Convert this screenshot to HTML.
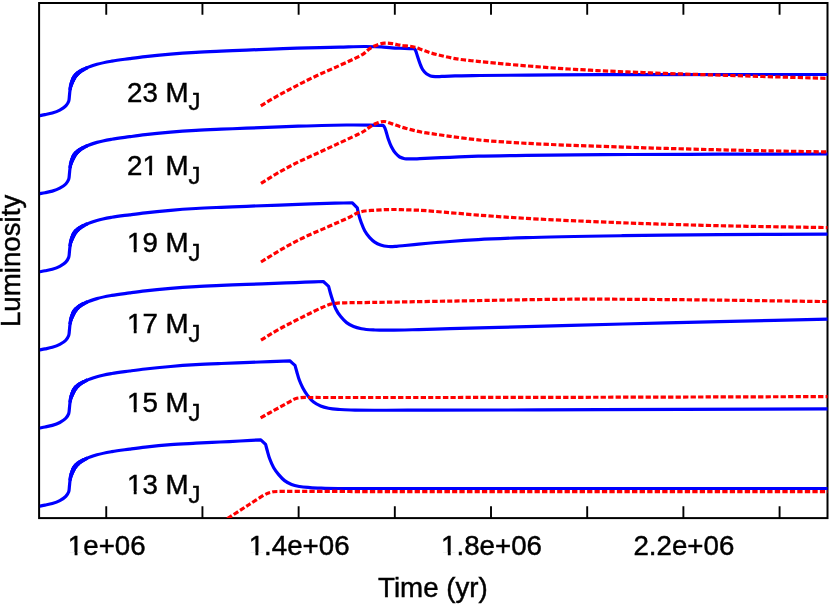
<!DOCTYPE html>
<html><head><meta charset="utf-8"><title>plot</title>
<style>
html,body{margin:0;padding:0;background:#fff;}
body{width:830px;height:605px;overflow:hidden;}
svg{display:block;will-change:transform;}
.f{font-family:"Liberation Sans",sans-serif;font-size:27.7px;fill:#000;stroke:#000;stroke-width:0.45px;}
.s{font-size:23.82px;}
.b{fill:none;stroke:#0000ff;stroke-width:3.2;stroke-linejoin:round;stroke-linecap:butt;}
.r{fill:none;stroke:#ff0000;stroke-width:3.2;stroke-dasharray:5.3 2.2;stroke-linejoin:round;}
.t{fill:none;stroke:#000;stroke-width:1.9;}
</style></head><body>
<svg width="830" height="605" viewBox="0 0 830 605">
<rect x="0" y="0" width="830" height="605" fill="#fff"/>
<defs><clipPath id="c"><rect x="39.9" y="3" width="787.6" height="515.1"/></clipPath></defs>
<path d="M106.25,518.1 v-11.8 M106.25,3 v11.8" class="t"/>
<path d="M202.44,518.1 v-11.8 M202.44,3 v11.8" class="t"/>
<path d="M298.63,518.1 v-11.8 M298.63,3 v11.8" class="t"/>
<path d="M394.82,518.1 v-11.8 M394.82,3 v11.8" class="t"/>
<path d="M491.01,518.1 v-11.8 M491.01,3 v11.8" class="t"/>
<path d="M587.20,518.1 v-11.8 M587.20,3 v11.8" class="t"/>
<path d="M683.39,518.1 v-11.8 M683.39,3 v11.8" class="t"/>
<path d="M779.58,518.1 v-11.8 M779.58,3 v11.8" class="t"/>
<rect x="39.1" y="3" width="788.4" height="515.1" fill="none" stroke="#000" stroke-width="2"/>
<g clip-path="url(#c)">
<path d="M39.00,115.70 C41.00,115.33 43.01,115.00 45.00,114.60 C47.44,114.11 49.91,113.71 52.30,113.00 C54.87,112.23 57.44,111.37 59.80,110.10 C61.95,108.94 64.18,107.72 65.80,105.90 C67.02,104.53 68.09,102.94 68.70,101.20 C69.28,99.55 69.20,97.74 69.40,96.00 C69.59,94.34 69.69,92.66 69.90,91.00 C70.09,89.49 70.24,87.98 70.60,86.50 C70.93,85.14 71.40,83.81 71.90,82.50 C72.65,80.54 73.40,78.53 74.60,76.80 C75.82,75.04 77.43,73.54 79.10,72.20 C81.31,70.43 83.93,69.21 86.50,68.00 C89.86,66.42 93.44,65.35 97.00,64.30 C101.84,62.88 106.83,62.00 111.80,61.10 C117.73,60.03 123.73,59.40 129.70,58.60 C134.90,57.91 140.09,57.21 145.30,56.60 C153.11,55.69 162.16,54.82 170.60,54.10 C179.02,53.38 187.46,52.80 195.90,52.30 C204.33,51.80 212.77,51.47 221.20,51.10 C229.63,50.73 238.07,50.43 246.50,50.10 C254.93,49.77 263.37,49.42 271.80,49.10 C280.23,48.78 288.67,48.46 297.10,48.20 C304.73,47.97 312.37,47.80 320.00,47.60 C326.67,47.43 333.33,47.26 340.00,47.10 C348.33,46.90 356.85,46.46 365.00,46.50 C370.43,46.53 375.94,46.55 381.30,46.90 C384.87,47.14 388.43,47.67 392.00,47.90 C394.66,48.07 397.33,48.15 400.00,48.25 C404.00,48.41 409.67,48.55 414.50,48.70 C414.90,49.40 415.35,50.08 415.70,50.80 C416.23,51.89 416.76,54.07 417.30,55.70 C418.11,58.15 418.85,60.67 419.80,63.10 C420.67,65.34 421.35,67.71 422.70,69.70 C423.73,71.22 424.92,72.70 426.40,73.80 C427.63,74.72 429.04,75.42 430.50,75.90 C432.35,76.51 434.36,76.49 436.30,76.60 C439.06,76.75 441.83,76.40 444.60,76.30 C448.07,76.17 451.53,76.01 455.00,75.90 C460.20,75.73 471.67,75.62 480.00,75.50 C492.50,75.33 530.67,75.05 556.00,74.90 C585.17,74.73 614.33,74.67 643.50,74.60 C687.25,74.49 766.50,74.53 828.00,74.50" class="b"/>
<path d="M39.00,193.80 C41.00,193.43 43.01,193.10 45.00,192.70 C47.44,192.21 49.91,191.81 52.30,191.10 C54.87,190.33 57.44,189.47 59.80,188.20 C61.95,187.04 64.18,185.82 65.80,184.00 C67.02,182.63 68.09,181.04 68.70,179.30 C69.28,177.65 69.20,175.84 69.40,174.10 C69.59,172.44 69.69,170.76 69.90,169.10 C70.09,167.59 70.24,166.08 70.60,164.60 C70.93,163.24 71.40,161.91 71.90,160.60 C72.65,158.64 73.40,156.63 74.60,154.90 C75.82,153.14 77.43,151.64 79.10,150.30 C81.31,148.53 83.93,147.31 86.50,146.10 C89.86,144.52 93.44,143.45 97.00,142.40 C101.84,140.98 106.83,140.10 111.80,139.20 C117.73,138.13 123.73,137.50 129.70,136.70 C134.90,136.01 140.09,135.31 145.30,134.70 C153.11,133.79 162.16,132.92 170.60,132.20 C179.02,131.48 187.46,130.90 195.90,130.40 C204.33,129.90 212.77,129.57 221.20,129.20 C229.63,128.83 238.07,128.53 246.50,128.20 C259.15,127.70 280.96,126.74 298.20,126.20 C314.26,125.69 334.60,125.06 346.40,125.00 C354.27,124.96 363.40,124.99 370.00,125.10 C374.40,125.17 378.80,125.30 383.20,125.40 C383.63,126.00 384.13,126.56 384.50,127.20 C385.04,128.13 385.33,129.19 385.70,130.20 C386.26,131.72 387.18,135.71 388.10,138.40 C389.07,141.22 390.03,144.06 391.40,146.70 C392.60,149.01 393.87,151.35 395.60,153.30 C396.82,154.68 398.11,156.08 399.70,157.00 C401.22,157.88 402.97,158.36 404.70,158.70 C406.86,159.13 409.10,158.89 411.30,158.90 C414.60,158.92 420.43,158.49 425.00,158.30 C431.85,158.01 441.67,157.63 450.00,157.30 C459.40,156.93 468.80,156.49 478.20,156.20 C492.30,155.77 510.33,155.62 526.40,155.40 C542.47,155.18 558.53,155.04 574.60,154.90 C593.07,154.74 611.53,154.61 630.00,154.50 C657.70,154.34 689.33,154.28 719.00,154.20 C755.33,154.10 791.67,154.07 828.00,154.00" class="b"/>
<path d="M39.00,271.90 C41.00,271.53 43.01,271.20 45.00,270.80 C47.44,270.31 49.91,269.91 52.30,269.20 C54.87,268.43 57.44,267.57 59.80,266.30 C61.95,265.14 64.18,263.92 65.80,262.10 C67.02,260.73 68.09,259.14 68.70,257.40 C69.28,255.75 69.20,253.94 69.40,252.20 C69.59,250.54 69.69,248.86 69.90,247.20 C70.09,245.69 70.24,244.18 70.60,242.70 C70.93,241.34 71.40,240.01 71.90,238.70 C72.65,236.74 73.40,234.73 74.60,233.00 C75.82,231.24 77.43,229.74 79.10,228.40 C81.31,226.63 83.93,225.41 86.50,224.20 C89.86,222.62 93.44,221.55 97.00,220.50 C101.84,219.08 106.83,218.20 111.80,217.30 C117.73,216.23 123.73,215.60 129.70,214.80 C134.90,214.11 140.09,213.41 145.30,212.80 C153.11,211.89 162.16,211.02 170.60,210.30 C179.02,209.58 187.46,209.00 195.90,208.50 C204.33,208.00 212.77,207.67 221.20,207.30 C229.63,206.93 238.07,206.63 246.50,206.30 C259.15,205.81 280.97,204.99 298.20,204.40 C310.47,203.98 326.33,203.43 335.00,203.20 C340.78,203.05 346.57,202.93 352.35,202.80 C354.00,204.50 355.65,206.20 357.30,207.90 C357.80,210.20 358.20,212.52 358.80,214.80 C359.50,217.47 360.35,220.11 361.30,222.70 C362.30,225.42 363.27,228.18 364.70,230.70 C366.10,233.17 367.77,235.51 369.70,237.60 C371.22,239.25 372.84,240.85 374.70,242.10 C376.52,243.33 378.53,244.28 380.60,245.00 C383.13,245.88 385.83,246.28 388.50,246.50 C391.16,246.72 393.84,246.46 396.50,246.30 C399.34,246.13 402.17,245.77 405.00,245.50 C409.25,245.10 414.13,244.62 418.70,244.20 C425.55,243.57 439.56,242.30 450.00,241.50 C459.39,240.78 468.79,240.14 478.20,239.60 C492.31,238.78 510.33,238.15 526.40,237.60 C550.51,236.77 590.66,236.18 622.80,235.70 C654.93,235.22 687.07,234.95 719.20,234.70 C755.47,234.42 791.73,234.37 828.00,234.20" class="b"/>
<path d="M39.00,350.00 C41.00,349.63 43.01,349.30 45.00,348.90 C47.44,348.41 49.91,348.01 52.30,347.30 C54.87,346.53 57.44,345.67 59.80,344.40 C61.95,343.24 64.18,342.02 65.80,340.20 C67.02,338.83 68.09,337.24 68.70,335.50 C69.28,333.85 69.20,332.04 69.40,330.30 C69.59,328.64 69.69,326.96 69.90,325.30 C70.09,323.79 70.24,322.28 70.60,320.80 C70.93,319.44 71.40,318.11 71.90,316.80 C72.65,314.84 73.40,312.83 74.60,311.10 C75.82,309.34 77.43,307.84 79.10,306.50 C81.31,304.73 83.93,303.51 86.50,302.30 C89.86,300.72 93.44,299.65 97.00,298.60 C101.84,297.18 106.83,296.30 111.80,295.40 C117.73,294.33 123.73,293.70 129.70,292.90 C134.90,292.21 140.09,291.51 145.30,290.90 C153.11,289.99 162.16,289.12 170.60,288.40 C179.02,287.68 187.46,287.10 195.90,286.60 C204.33,286.10 212.77,285.77 221.20,285.40 C229.63,285.03 238.07,284.73 246.50,284.40 C259.15,283.91 276.65,283.25 286.10,282.90 C292.40,282.66 298.70,282.44 305.00,282.20 C311.10,281.97 317.20,281.73 323.30,281.50 C325.07,283.13 326.83,284.77 328.60,286.40 C329.17,288.53 329.69,290.68 330.30,292.80 C331.07,295.49 331.90,298.15 332.80,300.80 C333.70,303.46 334.47,306.18 335.70,308.70 C337.06,311.50 338.75,314.17 340.70,316.60 C342.46,318.79 344.36,320.91 346.60,322.60 C348.73,324.21 351.13,325.48 353.60,326.50 C356.13,327.54 358.82,328.14 361.50,328.70 C365.51,329.54 370.49,329.74 375.00,330.00 C379.99,330.28 385.00,330.19 390.00,330.20 C397.50,330.21 409.13,329.84 418.70,329.60 C429.13,329.34 439.57,329.00 450.00,328.70 C465.65,328.26 500.93,327.29 526.40,326.60 C558.53,325.72 590.67,324.82 622.80,324.00 C654.93,323.18 687.07,322.45 719.20,321.70 C755.47,320.85 791.73,320.03 828.00,319.20" class="b"/>
<path d="M39.00,428.10 C41.00,427.73 43.01,427.40 45.00,427.00 C47.44,426.51 49.91,426.11 52.30,425.40 C54.87,424.63 57.44,423.77 59.80,422.50 C61.95,421.34 64.18,420.12 65.80,418.30 C67.02,416.93 68.09,415.34 68.70,413.60 C69.28,411.95 69.20,410.14 69.40,408.40 C69.59,406.74 69.69,405.06 69.90,403.40 C70.09,401.89 70.24,400.38 70.60,398.90 C70.93,397.54 71.40,396.21 71.90,394.90 C72.65,392.94 73.40,390.93 74.60,389.20 C75.82,387.44 77.43,385.94 79.10,384.60 C81.31,382.83 83.93,381.61 86.50,380.40 C89.86,378.82 93.44,377.75 97.00,376.70 C101.84,375.28 106.83,374.40 111.80,373.50 C117.73,372.43 123.73,371.80 129.70,371.00 C134.90,370.31 140.09,369.61 145.30,369.00 C153.11,368.09 162.16,367.22 170.60,366.50 C179.02,365.78 187.46,365.20 195.90,364.70 C204.33,364.20 212.77,363.86 221.20,363.50 C230.80,363.09 240.40,362.79 250.00,362.40 C256.67,362.13 263.33,361.82 270.00,361.55 C276.60,361.28 283.20,361.05 289.80,360.80 C291.53,362.33 293.27,363.87 295.00,365.40 C295.60,367.53 296.18,369.67 296.80,371.80 C297.57,374.47 298.24,377.19 299.20,379.80 C300.20,382.50 301.35,385.16 302.70,387.70 C304.16,390.45 305.81,393.13 307.70,395.60 C309.48,397.92 311.29,400.30 313.60,402.10 C315.70,403.75 318.13,404.98 320.60,406.00 C323.13,407.04 325.82,407.64 328.50,408.20 C332.28,408.99 336.15,409.19 340.00,409.50 C344.99,409.90 350.00,409.93 355.00,410.10 C362.50,410.35 405.00,410.20 430.00,410.20 C467.50,410.20 543.33,409.88 600.00,409.70 C676.00,409.46 752.00,409.17 828.00,408.90" class="b"/>
<path d="M39.00,506.20 C41.00,505.83 43.01,505.50 45.00,505.10 C47.44,504.61 49.91,504.21 52.30,503.50 C54.87,502.73 57.44,501.87 59.80,500.60 C61.95,499.44 64.18,498.22 65.80,496.40 C67.02,495.03 68.09,493.44 68.70,491.70 C69.28,490.05 69.20,488.24 69.40,486.50 C69.59,484.84 69.69,483.16 69.90,481.50 C70.09,479.99 70.24,478.48 70.60,477.00 C70.93,475.64 71.40,474.31 71.90,473.00 C72.65,471.04 73.40,469.03 74.60,467.30 C75.82,465.54 77.43,464.04 79.10,462.70 C81.31,460.93 83.93,459.71 86.50,458.50 C89.86,456.92 93.44,455.85 97.00,454.80 C101.84,453.38 106.83,452.50 111.80,451.60 C117.73,450.53 123.73,449.90 129.70,449.10 C134.90,448.41 140.09,447.71 145.30,447.10 C153.11,446.19 162.15,445.25 170.60,444.60 C179.05,443.95 187.53,443.64 196.00,443.20 C204.00,442.78 212.00,442.40 220.00,442.00 C226.67,441.67 233.33,441.36 240.00,441.00 C246.93,440.63 253.87,440.20 260.80,439.80 C262.40,441.33 264.00,442.87 265.60,444.40 C266.17,446.53 266.70,448.67 267.30,450.80 C268.05,453.48 268.74,456.19 269.70,458.80 C270.82,461.85 272.05,464.90 273.70,467.70 C275.14,470.15 276.86,472.43 278.70,474.60 C280.51,476.74 282.36,478.91 284.60,480.60 C286.73,482.21 289.12,483.51 291.60,484.50 C294.12,485.51 296.83,486.00 299.50,486.50 C302.96,487.15 306.49,487.32 310.00,487.60 C314.99,488.00 320.00,488.10 325.00,488.30 C332.50,488.59 375.00,488.44 400.00,488.50 C437.50,488.59 685.33,488.50 828.00,488.50" class="b"/>
<g transform="translate(0,0.00)"><path d="M65.80,105.90 C66.77,104.33 68.09,102.94 68.70,101.20 C69.28,99.55 69.20,97.74 69.40,96.00 C69.59,94.34 69.69,92.66 69.90,91.00 C70.09,89.49 70.24,87.98 70.60,86.50 C70.93,85.14 71.40,83.81 71.90,82.50 C72.65,80.54 73.40,78.53 74.60,76.80 C75.82,75.04 77.43,73.54 79.10,72.20 C81.31,70.43 83.93,69.21 86.50,68.00 C89.86,66.42 93.44,65.35 97.00,64.30 C101.84,62.88 106.87,62.17 111.80,61.10" class="b" style="stroke-width:3.5;stroke-dasharray:0 16.83 30.08 9999"/><path d="M65.80,105.90 C66.77,104.33 68.09,102.94 68.70,101.20 C69.28,99.55 69.20,97.74 69.40,96.00 C69.59,94.34 69.69,92.66 69.90,91.00 C70.09,89.49 70.24,87.98 70.60,86.50 C70.93,85.14 71.40,83.81 71.90,82.50 C72.65,80.54 73.40,78.53 74.60,76.80 C75.82,75.04 77.43,73.54 79.10,72.20 C81.31,70.43 83.93,69.21 86.50,68.00 C89.86,66.42 93.44,65.35 97.00,64.30 C101.84,62.88 106.87,62.17 111.80,61.10" class="b" style="stroke-width:3.8;stroke-dasharray:0 20.38 22.52 9999"/><path d="M65.80,105.90 C66.77,104.33 68.09,102.94 68.70,101.20 C69.28,99.55 69.20,97.74 69.40,96.00 C69.59,94.34 69.69,92.66 69.90,91.00 C70.09,89.49 70.24,87.98 70.60,86.50 C70.93,85.14 71.40,83.81 71.90,82.50 C72.65,80.54 73.40,78.53 74.60,76.80 C75.82,75.04 77.43,73.54 79.10,72.20 C81.31,70.43 83.93,69.21 86.50,68.00 C89.86,66.42 93.44,65.35 97.00,64.30 C101.84,62.88 106.87,62.17 111.80,61.10" class="b" style="stroke-width:4.1;stroke-dasharray:0 22.88 15.99 9999"/><path d="M65.80,105.90 C66.77,104.33 68.09,102.94 68.70,101.20 C69.28,99.55 69.20,97.74 69.40,96.00 C69.59,94.34 69.69,92.66 69.90,91.00 C70.09,89.49 70.24,87.98 70.60,86.50 C70.93,85.14 71.40,83.81 71.90,82.50 C72.65,80.54 73.40,78.53 74.60,76.80 C75.82,75.04 77.43,73.54 79.10,72.20 C81.31,70.43 83.93,69.21 86.50,68.00 C89.86,66.42 93.44,65.35 97.00,64.30 C101.84,62.88 106.87,62.17 111.80,61.10" class="b" style="stroke-width:4.4;stroke-dasharray:0 25.59 10.78 9999"/><path d="M65.80,105.90 C66.77,104.33 68.09,102.94 68.70,101.20 C69.28,99.55 69.20,97.74 69.40,96.00 C69.59,94.34 69.69,92.66 69.90,91.00 C70.09,89.49 70.24,87.98 70.60,86.50 C70.93,85.14 71.40,83.81 71.90,82.50 C72.65,80.54 73.40,78.53 74.60,76.80 C75.82,75.04 77.43,73.54 79.10,72.20 C81.31,70.43 83.93,69.21 86.50,68.00 C89.86,66.42 93.44,65.35 97.00,64.30 C101.84,62.88 106.87,62.17 111.80,61.10" class="b" style="stroke-width:4.6;stroke-dasharray:0 27.59 6.28 9999"/></g>
<g transform="translate(0,78.10)"><path d="M65.80,105.90 C66.77,104.33 68.09,102.94 68.70,101.20 C69.28,99.55 69.20,97.74 69.40,96.00 C69.59,94.34 69.69,92.66 69.90,91.00 C70.09,89.49 70.24,87.98 70.60,86.50 C70.93,85.14 71.40,83.81 71.90,82.50 C72.65,80.54 73.40,78.53 74.60,76.80 C75.82,75.04 77.43,73.54 79.10,72.20 C81.31,70.43 83.93,69.21 86.50,68.00 C89.86,66.42 93.44,65.35 97.00,64.30 C101.84,62.88 106.87,62.17 111.80,61.10" class="b" style="stroke-width:3.5;stroke-dasharray:0 16.83 30.08 9999"/><path d="M65.80,105.90 C66.77,104.33 68.09,102.94 68.70,101.20 C69.28,99.55 69.20,97.74 69.40,96.00 C69.59,94.34 69.69,92.66 69.90,91.00 C70.09,89.49 70.24,87.98 70.60,86.50 C70.93,85.14 71.40,83.81 71.90,82.50 C72.65,80.54 73.40,78.53 74.60,76.80 C75.82,75.04 77.43,73.54 79.10,72.20 C81.31,70.43 83.93,69.21 86.50,68.00 C89.86,66.42 93.44,65.35 97.00,64.30 C101.84,62.88 106.87,62.17 111.80,61.10" class="b" style="stroke-width:3.8;stroke-dasharray:0 20.38 22.52 9999"/><path d="M65.80,105.90 C66.77,104.33 68.09,102.94 68.70,101.20 C69.28,99.55 69.20,97.74 69.40,96.00 C69.59,94.34 69.69,92.66 69.90,91.00 C70.09,89.49 70.24,87.98 70.60,86.50 C70.93,85.14 71.40,83.81 71.90,82.50 C72.65,80.54 73.40,78.53 74.60,76.80 C75.82,75.04 77.43,73.54 79.10,72.20 C81.31,70.43 83.93,69.21 86.50,68.00 C89.86,66.42 93.44,65.35 97.00,64.30 C101.84,62.88 106.87,62.17 111.80,61.10" class="b" style="stroke-width:4.1;stroke-dasharray:0 22.88 15.99 9999"/><path d="M65.80,105.90 C66.77,104.33 68.09,102.94 68.70,101.20 C69.28,99.55 69.20,97.74 69.40,96.00 C69.59,94.34 69.69,92.66 69.90,91.00 C70.09,89.49 70.24,87.98 70.60,86.50 C70.93,85.14 71.40,83.81 71.90,82.50 C72.65,80.54 73.40,78.53 74.60,76.80 C75.82,75.04 77.43,73.54 79.10,72.20 C81.31,70.43 83.93,69.21 86.50,68.00 C89.86,66.42 93.44,65.35 97.00,64.30 C101.84,62.88 106.87,62.17 111.80,61.10" class="b" style="stroke-width:4.4;stroke-dasharray:0 25.59 10.78 9999"/><path d="M65.80,105.90 C66.77,104.33 68.09,102.94 68.70,101.20 C69.28,99.55 69.20,97.74 69.40,96.00 C69.59,94.34 69.69,92.66 69.90,91.00 C70.09,89.49 70.24,87.98 70.60,86.50 C70.93,85.14 71.40,83.81 71.90,82.50 C72.65,80.54 73.40,78.53 74.60,76.80 C75.82,75.04 77.43,73.54 79.10,72.20 C81.31,70.43 83.93,69.21 86.50,68.00 C89.86,66.42 93.44,65.35 97.00,64.30 C101.84,62.88 106.87,62.17 111.80,61.10" class="b" style="stroke-width:4.6;stroke-dasharray:0 27.59 6.28 9999"/></g>
<g transform="translate(0,156.20)"><path d="M65.80,105.90 C66.77,104.33 68.09,102.94 68.70,101.20 C69.28,99.55 69.20,97.74 69.40,96.00 C69.59,94.34 69.69,92.66 69.90,91.00 C70.09,89.49 70.24,87.98 70.60,86.50 C70.93,85.14 71.40,83.81 71.90,82.50 C72.65,80.54 73.40,78.53 74.60,76.80 C75.82,75.04 77.43,73.54 79.10,72.20 C81.31,70.43 83.93,69.21 86.50,68.00 C89.86,66.42 93.44,65.35 97.00,64.30 C101.84,62.88 106.87,62.17 111.80,61.10" class="b" style="stroke-width:3.5;stroke-dasharray:0 16.83 30.08 9999"/><path d="M65.80,105.90 C66.77,104.33 68.09,102.94 68.70,101.20 C69.28,99.55 69.20,97.74 69.40,96.00 C69.59,94.34 69.69,92.66 69.90,91.00 C70.09,89.49 70.24,87.98 70.60,86.50 C70.93,85.14 71.40,83.81 71.90,82.50 C72.65,80.54 73.40,78.53 74.60,76.80 C75.82,75.04 77.43,73.54 79.10,72.20 C81.31,70.43 83.93,69.21 86.50,68.00 C89.86,66.42 93.44,65.35 97.00,64.30 C101.84,62.88 106.87,62.17 111.80,61.10" class="b" style="stroke-width:3.8;stroke-dasharray:0 20.38 22.52 9999"/><path d="M65.80,105.90 C66.77,104.33 68.09,102.94 68.70,101.20 C69.28,99.55 69.20,97.74 69.40,96.00 C69.59,94.34 69.69,92.66 69.90,91.00 C70.09,89.49 70.24,87.98 70.60,86.50 C70.93,85.14 71.40,83.81 71.90,82.50 C72.65,80.54 73.40,78.53 74.60,76.80 C75.82,75.04 77.43,73.54 79.10,72.20 C81.31,70.43 83.93,69.21 86.50,68.00 C89.86,66.42 93.44,65.35 97.00,64.30 C101.84,62.88 106.87,62.17 111.80,61.10" class="b" style="stroke-width:4.1;stroke-dasharray:0 22.88 15.99 9999"/><path d="M65.80,105.90 C66.77,104.33 68.09,102.94 68.70,101.20 C69.28,99.55 69.20,97.74 69.40,96.00 C69.59,94.34 69.69,92.66 69.90,91.00 C70.09,89.49 70.24,87.98 70.60,86.50 C70.93,85.14 71.40,83.81 71.90,82.50 C72.65,80.54 73.40,78.53 74.60,76.80 C75.82,75.04 77.43,73.54 79.10,72.20 C81.31,70.43 83.93,69.21 86.50,68.00 C89.86,66.42 93.44,65.35 97.00,64.30 C101.84,62.88 106.87,62.17 111.80,61.10" class="b" style="stroke-width:4.4;stroke-dasharray:0 25.59 10.78 9999"/><path d="M65.80,105.90 C66.77,104.33 68.09,102.94 68.70,101.20 C69.28,99.55 69.20,97.74 69.40,96.00 C69.59,94.34 69.69,92.66 69.90,91.00 C70.09,89.49 70.24,87.98 70.60,86.50 C70.93,85.14 71.40,83.81 71.90,82.50 C72.65,80.54 73.40,78.53 74.60,76.80 C75.82,75.04 77.43,73.54 79.10,72.20 C81.31,70.43 83.93,69.21 86.50,68.00 C89.86,66.42 93.44,65.35 97.00,64.30 C101.84,62.88 106.87,62.17 111.80,61.10" class="b" style="stroke-width:4.6;stroke-dasharray:0 27.59 6.28 9999"/></g>
<g transform="translate(0,234.30)"><path d="M65.80,105.90 C66.77,104.33 68.09,102.94 68.70,101.20 C69.28,99.55 69.20,97.74 69.40,96.00 C69.59,94.34 69.69,92.66 69.90,91.00 C70.09,89.49 70.24,87.98 70.60,86.50 C70.93,85.14 71.40,83.81 71.90,82.50 C72.65,80.54 73.40,78.53 74.60,76.80 C75.82,75.04 77.43,73.54 79.10,72.20 C81.31,70.43 83.93,69.21 86.50,68.00 C89.86,66.42 93.44,65.35 97.00,64.30 C101.84,62.88 106.87,62.17 111.80,61.10" class="b" style="stroke-width:3.5;stroke-dasharray:0 16.83 30.08 9999"/><path d="M65.80,105.90 C66.77,104.33 68.09,102.94 68.70,101.20 C69.28,99.55 69.20,97.74 69.40,96.00 C69.59,94.34 69.69,92.66 69.90,91.00 C70.09,89.49 70.24,87.98 70.60,86.50 C70.93,85.14 71.40,83.81 71.90,82.50 C72.65,80.54 73.40,78.53 74.60,76.80 C75.82,75.04 77.43,73.54 79.10,72.20 C81.31,70.43 83.93,69.21 86.50,68.00 C89.86,66.42 93.44,65.35 97.00,64.30 C101.84,62.88 106.87,62.17 111.80,61.10" class="b" style="stroke-width:3.8;stroke-dasharray:0 20.38 22.52 9999"/><path d="M65.80,105.90 C66.77,104.33 68.09,102.94 68.70,101.20 C69.28,99.55 69.20,97.74 69.40,96.00 C69.59,94.34 69.69,92.66 69.90,91.00 C70.09,89.49 70.24,87.98 70.60,86.50 C70.93,85.14 71.40,83.81 71.90,82.50 C72.65,80.54 73.40,78.53 74.60,76.80 C75.82,75.04 77.43,73.54 79.10,72.20 C81.31,70.43 83.93,69.21 86.50,68.00 C89.86,66.42 93.44,65.35 97.00,64.30 C101.84,62.88 106.87,62.17 111.80,61.10" class="b" style="stroke-width:4.1;stroke-dasharray:0 22.88 15.99 9999"/><path d="M65.80,105.90 C66.77,104.33 68.09,102.94 68.70,101.20 C69.28,99.55 69.20,97.74 69.40,96.00 C69.59,94.34 69.69,92.66 69.90,91.00 C70.09,89.49 70.24,87.98 70.60,86.50 C70.93,85.14 71.40,83.81 71.90,82.50 C72.65,80.54 73.40,78.53 74.60,76.80 C75.82,75.04 77.43,73.54 79.10,72.20 C81.31,70.43 83.93,69.21 86.50,68.00 C89.86,66.42 93.44,65.35 97.00,64.30 C101.84,62.88 106.87,62.17 111.80,61.10" class="b" style="stroke-width:4.4;stroke-dasharray:0 25.59 10.78 9999"/><path d="M65.80,105.90 C66.77,104.33 68.09,102.94 68.70,101.20 C69.28,99.55 69.20,97.74 69.40,96.00 C69.59,94.34 69.69,92.66 69.90,91.00 C70.09,89.49 70.24,87.98 70.60,86.50 C70.93,85.14 71.40,83.81 71.90,82.50 C72.65,80.54 73.40,78.53 74.60,76.80 C75.82,75.04 77.43,73.54 79.10,72.20 C81.31,70.43 83.93,69.21 86.50,68.00 C89.86,66.42 93.44,65.35 97.00,64.30 C101.84,62.88 106.87,62.17 111.80,61.10" class="b" style="stroke-width:4.6;stroke-dasharray:0 27.59 6.28 9999"/></g>
<g transform="translate(0,312.40)"><path d="M65.80,105.90 C66.77,104.33 68.09,102.94 68.70,101.20 C69.28,99.55 69.20,97.74 69.40,96.00 C69.59,94.34 69.69,92.66 69.90,91.00 C70.09,89.49 70.24,87.98 70.60,86.50 C70.93,85.14 71.40,83.81 71.90,82.50 C72.65,80.54 73.40,78.53 74.60,76.80 C75.82,75.04 77.43,73.54 79.10,72.20 C81.31,70.43 83.93,69.21 86.50,68.00 C89.86,66.42 93.44,65.35 97.00,64.30 C101.84,62.88 106.87,62.17 111.80,61.10" class="b" style="stroke-width:3.5;stroke-dasharray:0 16.83 30.08 9999"/><path d="M65.80,105.90 C66.77,104.33 68.09,102.94 68.70,101.20 C69.28,99.55 69.20,97.74 69.40,96.00 C69.59,94.34 69.69,92.66 69.90,91.00 C70.09,89.49 70.24,87.98 70.60,86.50 C70.93,85.14 71.40,83.81 71.90,82.50 C72.65,80.54 73.40,78.53 74.60,76.80 C75.82,75.04 77.43,73.54 79.10,72.20 C81.31,70.43 83.93,69.21 86.50,68.00 C89.86,66.42 93.44,65.35 97.00,64.30 C101.84,62.88 106.87,62.17 111.80,61.10" class="b" style="stroke-width:3.8;stroke-dasharray:0 20.38 22.52 9999"/><path d="M65.80,105.90 C66.77,104.33 68.09,102.94 68.70,101.20 C69.28,99.55 69.20,97.74 69.40,96.00 C69.59,94.34 69.69,92.66 69.90,91.00 C70.09,89.49 70.24,87.98 70.60,86.50 C70.93,85.14 71.40,83.81 71.90,82.50 C72.65,80.54 73.40,78.53 74.60,76.80 C75.82,75.04 77.43,73.54 79.10,72.20 C81.31,70.43 83.93,69.21 86.50,68.00 C89.86,66.42 93.44,65.35 97.00,64.30 C101.84,62.88 106.87,62.17 111.80,61.10" class="b" style="stroke-width:4.1;stroke-dasharray:0 22.88 15.99 9999"/><path d="M65.80,105.90 C66.77,104.33 68.09,102.94 68.70,101.20 C69.28,99.55 69.20,97.74 69.40,96.00 C69.59,94.34 69.69,92.66 69.90,91.00 C70.09,89.49 70.24,87.98 70.60,86.50 C70.93,85.14 71.40,83.81 71.90,82.50 C72.65,80.54 73.40,78.53 74.60,76.80 C75.82,75.04 77.43,73.54 79.10,72.20 C81.31,70.43 83.93,69.21 86.50,68.00 C89.86,66.42 93.44,65.35 97.00,64.30 C101.84,62.88 106.87,62.17 111.80,61.10" class="b" style="stroke-width:4.4;stroke-dasharray:0 25.59 10.78 9999"/><path d="M65.80,105.90 C66.77,104.33 68.09,102.94 68.70,101.20 C69.28,99.55 69.20,97.74 69.40,96.00 C69.59,94.34 69.69,92.66 69.90,91.00 C70.09,89.49 70.24,87.98 70.60,86.50 C70.93,85.14 71.40,83.81 71.90,82.50 C72.65,80.54 73.40,78.53 74.60,76.80 C75.82,75.04 77.43,73.54 79.10,72.20 C81.31,70.43 83.93,69.21 86.50,68.00 C89.86,66.42 93.44,65.35 97.00,64.30 C101.84,62.88 106.87,62.17 111.80,61.10" class="b" style="stroke-width:4.6;stroke-dasharray:0 27.59 6.28 9999"/></g>
<g transform="translate(0,390.50)"><path d="M65.80,105.90 C66.77,104.33 68.09,102.94 68.70,101.20 C69.28,99.55 69.20,97.74 69.40,96.00 C69.59,94.34 69.69,92.66 69.90,91.00 C70.09,89.49 70.24,87.98 70.60,86.50 C70.93,85.14 71.40,83.81 71.90,82.50 C72.65,80.54 73.40,78.53 74.60,76.80 C75.82,75.04 77.43,73.54 79.10,72.20 C81.31,70.43 83.93,69.21 86.50,68.00 C89.86,66.42 93.44,65.35 97.00,64.30 C101.84,62.88 106.87,62.17 111.80,61.10" class="b" style="stroke-width:3.5;stroke-dasharray:0 16.83 30.08 9999"/><path d="M65.80,105.90 C66.77,104.33 68.09,102.94 68.70,101.20 C69.28,99.55 69.20,97.74 69.40,96.00 C69.59,94.34 69.69,92.66 69.90,91.00 C70.09,89.49 70.24,87.98 70.60,86.50 C70.93,85.14 71.40,83.81 71.90,82.50 C72.65,80.54 73.40,78.53 74.60,76.80 C75.82,75.04 77.43,73.54 79.10,72.20 C81.31,70.43 83.93,69.21 86.50,68.00 C89.86,66.42 93.44,65.35 97.00,64.30 C101.84,62.88 106.87,62.17 111.80,61.10" class="b" style="stroke-width:3.8;stroke-dasharray:0 20.38 22.52 9999"/><path d="M65.80,105.90 C66.77,104.33 68.09,102.94 68.70,101.20 C69.28,99.55 69.20,97.74 69.40,96.00 C69.59,94.34 69.69,92.66 69.90,91.00 C70.09,89.49 70.24,87.98 70.60,86.50 C70.93,85.14 71.40,83.81 71.90,82.50 C72.65,80.54 73.40,78.53 74.60,76.80 C75.82,75.04 77.43,73.54 79.10,72.20 C81.31,70.43 83.93,69.21 86.50,68.00 C89.86,66.42 93.44,65.35 97.00,64.30 C101.84,62.88 106.87,62.17 111.80,61.10" class="b" style="stroke-width:4.1;stroke-dasharray:0 22.88 15.99 9999"/><path d="M65.80,105.90 C66.77,104.33 68.09,102.94 68.70,101.20 C69.28,99.55 69.20,97.74 69.40,96.00 C69.59,94.34 69.69,92.66 69.90,91.00 C70.09,89.49 70.24,87.98 70.60,86.50 C70.93,85.14 71.40,83.81 71.90,82.50 C72.65,80.54 73.40,78.53 74.60,76.80 C75.82,75.04 77.43,73.54 79.10,72.20 C81.31,70.43 83.93,69.21 86.50,68.00 C89.86,66.42 93.44,65.35 97.00,64.30 C101.84,62.88 106.87,62.17 111.80,61.10" class="b" style="stroke-width:4.4;stroke-dasharray:0 25.59 10.78 9999"/><path d="M65.80,105.90 C66.77,104.33 68.09,102.94 68.70,101.20 C69.28,99.55 69.20,97.74 69.40,96.00 C69.59,94.34 69.69,92.66 69.90,91.00 C70.09,89.49 70.24,87.98 70.60,86.50 C70.93,85.14 71.40,83.81 71.90,82.50 C72.65,80.54 73.40,78.53 74.60,76.80 C75.82,75.04 77.43,73.54 79.10,72.20 C81.31,70.43 83.93,69.21 86.50,68.00 C89.86,66.42 93.44,65.35 97.00,64.30 C101.84,62.88 106.87,62.17 111.80,61.10" class="b" style="stroke-width:4.6;stroke-dasharray:0 27.59 6.28 9999"/></g>
<path d="M260.80,105.80 C266.10,102.67 271.34,99.43 276.70,96.40 C282.89,92.90 289.19,89.58 295.50,86.30 C302.18,82.83 308.90,79.42 315.70,76.20 C322.40,73.03 329.24,70.16 336.00,67.10 C341.21,64.75 348.29,61.58 351.60,60.00 C353.81,58.95 356.04,57.94 358.20,56.80 C359.99,55.85 361.81,54.93 363.50,53.80 C365.76,52.29 367.52,50.09 369.80,48.60 C372.11,47.09 374.60,45.82 377.20,44.90 C379.59,44.06 382.08,43.42 384.60,43.20 C387.09,42.99 389.62,43.29 392.10,43.60 C394.77,43.93 397.36,44.73 400.00,45.20 C403.97,45.91 410.96,46.13 414.80,47.20 C417.36,47.91 419.80,49.01 422.30,49.90 C425.03,50.87 427.73,51.94 430.50,52.80 C433.50,53.73 436.55,54.45 439.60,55.20 C444.17,56.33 449.83,57.66 455.00,58.60 C462.76,60.01 471.66,60.67 480.00,61.60 C492.51,63.00 531.10,66.42 556.70,68.20 C585.60,70.21 614.55,71.41 643.50,72.60 C665.16,73.49 686.83,74.10 708.50,74.80 C730.20,75.50 751.90,76.15 773.60,76.80 C791.73,77.34 809.87,77.87 828.00,78.40" class="r"/>
<path d="M261.00,183.40 C266.23,180.13 271.38,176.72 276.70,173.60 C282.85,170.00 289.13,166.61 295.50,163.40 C302.13,160.06 308.96,157.13 315.70,154.00 C322.46,150.86 329.24,147.74 336.00,144.60 C342.74,141.47 352.94,136.78 356.20,135.20 C358.37,134.15 361.00,133.02 362.70,132.00 C363.83,131.32 364.91,130.55 366.00,129.80 C367.35,128.86 368.62,127.80 370.00,126.90 C372.06,125.54 374.25,124.11 376.60,123.20 C378.96,122.29 381.47,121.44 384.00,121.50 C386.56,121.56 388.95,122.83 391.40,123.60 C394.20,124.48 396.91,125.60 399.70,126.50 C401.89,127.21 404.09,127.88 406.30,128.50 C409.05,129.27 411.82,129.95 414.60,130.60 C417.06,131.17 419.52,131.73 422.00,132.20 C425.68,132.90 429.40,133.35 433.10,133.90 C438.65,134.73 444.36,135.53 450.00,136.30 C458.46,137.46 468.78,138.90 478.20,139.90 C492.33,141.40 510.32,142.33 526.40,143.30 C550.52,144.75 590.66,146.02 622.80,147.10 C654.93,148.18 687.06,149.02 719.20,149.80 C755.46,150.68 791.73,151.27 828.00,152.00" class="r"/>
<path d="M261.00,262.00 C265.63,259.13 270.24,256.22 274.90,253.40 C279.73,250.48 284.55,247.52 289.50,244.80 C295.55,241.48 301.74,238.41 308.00,235.50 C313.24,233.06 318.61,230.91 323.90,228.60 C329.21,226.28 334.69,223.88 339.80,221.60 C343.21,220.08 346.66,218.67 350.00,217.00 C352.64,215.68 355.04,213.84 357.80,212.80 C360.02,211.96 362.36,211.42 364.70,211.00 C367.99,210.41 371.37,210.52 374.70,210.30 C378.67,210.04 382.63,209.73 386.60,209.60 C389.90,209.49 393.20,209.45 396.50,209.50 C399.33,209.54 402.17,209.71 405.00,209.80 C409.25,209.94 414.14,210.00 418.70,210.20 C425.55,210.51 439.57,211.84 450.00,212.70 C459.40,213.48 468.80,214.36 478.20,215.10 C492.31,216.21 510.33,217.42 526.40,218.40 C550.51,219.87 590.66,221.58 622.80,222.80 C654.92,224.02 687.06,224.92 719.20,225.70 C755.46,226.58 791.73,226.97 828.00,227.60" class="r"/>
<path d="M261.00,340.10 C263.70,338.43 266.38,336.74 269.10,335.10 C273.17,332.64 277.70,329.92 282.10,327.50 C286.37,325.15 290.76,323.01 295.10,320.80 C299.79,318.41 304.47,316.01 309.20,313.70 C313.51,311.59 318.43,309.13 322.20,307.50 C324.71,306.41 327.17,305.14 329.80,304.40 C332.27,303.70 334.84,303.37 337.40,303.10 C339.92,302.84 342.47,302.89 345.00,302.80 C348.80,302.67 365.00,302.54 375.00,302.40 C390.00,302.18 425.00,301.51 450.00,301.10 C487.50,300.48 533.06,299.38 574.60,299.20 C606.73,299.06 638.87,299.36 671.00,299.60 C719.20,299.96 775.67,300.93 828.00,301.60" class="r"/>
<path d="M260.60,417.80 C263.50,416.20 266.40,414.60 269.30,413.00 C272.50,411.23 275.70,409.47 278.90,407.70 C282.14,405.91 285.35,404.07 288.60,402.30 C290.83,401.09 292.89,399.49 295.30,398.70 C297.17,398.09 299.15,397.87 301.10,397.65 C304.03,397.31 307.03,397.54 310.00,397.50 C314.45,397.44 330.00,397.50 340.00,397.50 C355.00,397.50 400.00,397.52 430.00,397.50 C475.00,397.48 543.33,397.37 600.00,397.25 C676.00,397.09 752.00,396.82 828.00,396.60" class="r"/>
<path d="M221.00,522.80 C230.40,516.70 240.21,510.14 249.20,504.50 C255.20,500.74 264.26,494.45 267.30,493.40 C269.33,492.70 271.43,492.24 273.50,491.70 C276.61,490.89 357.83,491.70 400.00,491.70 C463.25,491.70 685.33,491.70 828.00,491.70" class="r"/>
</g>
<text transform="translate(106.75,555.45) scale(1,1.015)" text-anchor="middle" class="f">1e+06</text>
<path transform="translate(106.75,555.45) scale(1,1.015)" d="M-38.13,-3.2h6.0v4.6h-6.0z M-29.25,-3.2h5.8v4.6h-5.8z" fill="#fff"/>
<text transform="translate(299.13,555.45) scale(1,1.015)" text-anchor="middle" class="f">1.4e+06</text>
<path transform="translate(299.13,555.45) scale(1,1.015)" d="M-49.67,-3.2h6.0v4.6h-6.0z M-40.79,-3.2h5.8v4.6h-5.8z" fill="#fff"/>
<text transform="translate(491.51,555.45) scale(1,1.015)" text-anchor="middle" class="f">1.8e+06</text>
<path transform="translate(491.51,555.45) scale(1,1.015)" d="M-49.67,-3.2h6.0v4.6h-6.0z M-40.79,-3.2h5.8v4.6h-5.8z" fill="#fff"/>
<text transform="translate(683.89,555.45) scale(1,1.015)" text-anchor="middle" class="f">2.2e+06</text>
<text transform="translate(127.0,101.50) scale(1,1.015)" class="f">23 M<tspan dy="8.7" class="s">J</tspan></text>
<text transform="translate(127.0,174.75) scale(1,1.015)" class="f">21 M<tspan dy="8.7" class="s">J</tspan></text>
<path transform="translate(127.0,174.75) scale(1,1.015)" d="M16.13,-3.2h6.0v4.6h-6.0z M25.01,-3.2h5.8v4.6h-5.8z" fill="#fff"/>
<text transform="translate(127.0,252.30) scale(1,1.015)" class="f">19 M<tspan dy="8.7" class="s">J</tspan></text>
<path transform="translate(127.0,252.30) scale(1,1.015)" d="M0.75,-3.2h6.0v4.6h-6.0z M9.63,-3.2h5.8v4.6h-5.8z" fill="#fff"/>
<text transform="translate(127.0,332.80) scale(1,1.015)" class="f">17 M<tspan dy="8.7" class="s">J</tspan></text>
<path transform="translate(127.0,332.80) scale(1,1.015)" d="M0.75,-3.2h6.0v4.6h-6.0z M9.63,-3.2h5.8v4.6h-5.8z" fill="#fff"/>
<text transform="translate(127.0,412.20) scale(1,1.015)" class="f">15 M<tspan dy="8.7" class="s">J</tspan></text>
<path transform="translate(127.0,412.20) scale(1,1.015)" d="M0.75,-3.2h6.0v4.6h-6.0z M9.63,-3.2h5.8v4.6h-5.8z" fill="#fff"/>
<text transform="translate(127.0,494.30) scale(1,1.015)" class="f">13 M<tspan dy="8.7" class="s">J</tspan></text>
<path transform="translate(127.0,494.30) scale(1,1.015)" d="M0.75,-3.2h6.0v4.6h-6.0z M9.63,-3.2h5.8v4.6h-5.8z" fill="#fff"/>
<text transform="translate(432.9,597.3) scale(1,1.015)" text-anchor="middle" class="f">Time (yr)</text>
<text transform="translate(20.4,260.9) rotate(-90) scale(1,1.015)" text-anchor="middle" class="f">Luminosity</text>
</svg>
</body></html>
